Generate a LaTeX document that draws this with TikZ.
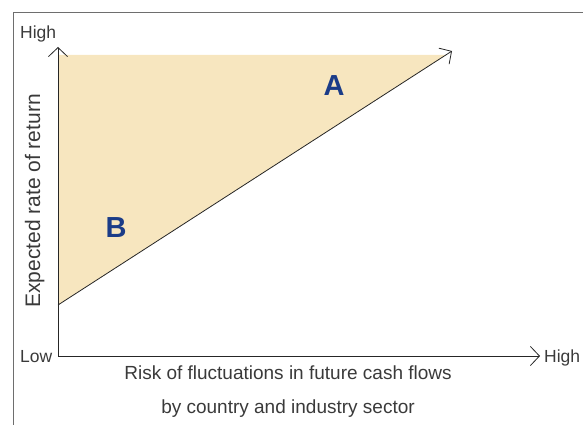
\documentclass[tikz,border=0pt]{standalone}
\usepackage{fontspec}
\setmainfont{Liberation Sans}
\usetikzlibrary{arrows.meta}
\definecolor{fillc}{HTML}{F7E6BF}
\definecolor{letc}{HTML}{1B3C88}
\definecolor{txtc}{HTML}{3A3A3A}
\definecolor{framec}{HTML}{6E6E6E}
\tikzset{
  axis/.style={line width=0.8pt, draw=black!85, -{Straight Barb[length=9pt,width=19pt,line width=0.8pt]}},
  lbl/.style={text=txtc, font=\fontsize{19}{19}\selectfont, inner sep=0pt},
  sml/.style={text=txtc, font=\fontsize{17.5}{17.5}\selectfont, inner sep=0pt},
  ylb/.style={text=txtc, font=\fontsize{21}{21}\selectfont, inner sep=0pt},
  big/.style={text=letc, font=\fontsize{29}{29}\selectfont\bfseries, inner sep=0pt},
  framel/.style={draw=framec, line width=1pt}
}
\begin{document}
\begin{tikzpicture}[x=1pt,y=-1pt]
\useasboundingbox (0,0) rectangle (583,425);
% frame
\coordinate (fb) at (13,425);
\coordinate (fc) at (13,13);
\coordinate (fr) at (583,13);
\draw[framel] (fb) -- (fc) -- (fr);
% fill
\coordinate (o) at (58,356);
\coordinate (ys) at (58,305);
\coordinate (yt) at (58,55);
\coordinate (ft) at (446,55);
\coordinate (dt) at (452,51);
\fill[fillc] (ys) -- (yt) -- (ft) -- cycle;
% axes
\coordinate (ytip) at (58,47);
\coordinate (xtip) at (540,356);
\draw[axis] (o) -- (ytip);
\draw[axis] (o) -- (xtip);
\draw[axis] (ys) -- (dt);
% labels
\node[sml, anchor=base west] (hy) at (20,39) {High};
\node[sml, anchor=base west] (low) at (20,362) {Low};
\node[sml, anchor=base west] (hx) at (544,362) {High};
\node[ylb, rotate=90, anchor=base] (ylab) at (40,201) {Expected rate of return};
\node[lbl, anchor=base] (xl1) at (288,379) {Risk of fluctuations in future cash flows};
\node[lbl, anchor=base] (xl2) at (288,413) {by country and industry sector};
\node[big] (A) at (334,86) {A};
\node[big] (B) at (116,228) {B};
\end{tikzpicture}
\end{document}
